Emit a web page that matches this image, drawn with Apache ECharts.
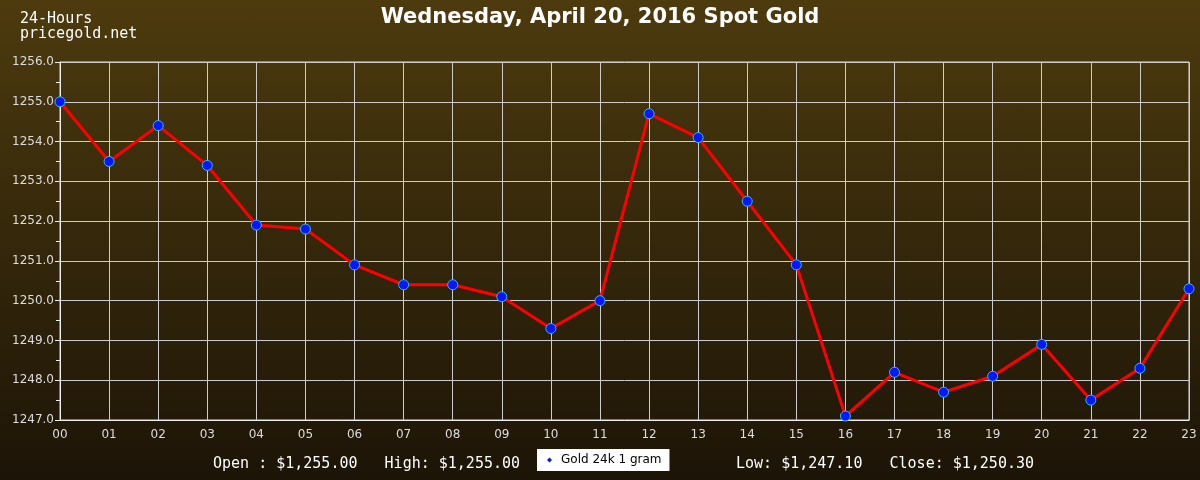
<!DOCTYPE html>
<html><head><meta charset="utf-8">
<script src="https://cdn.jsdelivr.net/npm/echarts@6/dist/echarts.min.js"></script>
<style>html,body{margin:0;padding:0;}#c{width:1200px;height:480px;background:linear-gradient(#4d3b0e,#1c1407);}</style>
</head><body><div id="c"></div>
<script>
const hours = ['00','01','02','03','04','05','06','07','08','09','10','11','12','13','14','15','16','17','18','19','20','21','22','23'];
const prices = [1255.0,1253.5,1254.4,1253.4,1251.9,1251.8,1250.9,1250.4,1250.4,1250.1,1249.3,1250.0,1254.7,1254.1,1252.5,1250.9,1247.1,1248.2,1247.7,1248.1,1248.9,1247.5,1248.3,1250.3];
const seriesName = 'Gold 24k 1 gram';
const titleText = 'Wednesday, April 20, 2016 Spot Gold';
const footerLeft = 'Open : $1,255.00   High: $1,255.00';
const footerRight = 'Low: $1,247.10   Close: $1,250.30';

const chart = echarts.init(document.getElementById('c'), null, {renderer:'canvas'});
const mono = '"DejaVu Sans Mono", monospace';
chart.setOption({
  animation:false,
  backgroundColor:'transparent',
  title:{text:titleText,left:'center',top:2,textStyle:{color:'#fff',fontSize:21,fontWeight:'bold',fontFamily:'"DejaVu Sans", sans-serif'}},
  graphic:[
    {type:'text',left:20,top:12,style:{text:'24-Hours\npricegold.net',fill:'#fff',font:'15px '+mono,lineHeight:15}},
    {type:'text',left:213,top:457,style:{text:footerLeft,fill:'#fff',font:'15px '+mono}},
    {type:'text',left:736,top:457,style:{text:footerRight,fill:'#fff',font:'15px '+mono}}
  ],
  legend:{left:537,top:449,backgroundColor:'#fff',padding:[5,8,5,10],itemWidth:5,itemHeight:5,itemGap:5,
    itemStyle:{color:'#0018ff',borderWidth:0},
    data:[{name:seriesName,icon:'diamond'}],textStyle:{color:'#000',fontSize:12,padding:[0,0,0,4],fontFamily:'"DejaVu Sans", sans-serif'}},
  grid:{left:60,right:11,top:62,bottom:60,show:true,borderColor:'#ddd',borderWidth:1,backgroundColor:'transparent'},
  xAxis:{type:'category',data:hours,boundaryGap:false,
    axisLine:{lineStyle:{color:'#eee',width:1}},axisTick:{show:false},
    axisLabel:{color:'#ddd',fontSize:12,margin:9,fontFamily:'"DejaVu Sans", sans-serif'},
    splitLine:{show:true,lineStyle:{color:'#ccc',width:1}}},
  yAxis:{type:'value',min:1247,max:1256,interval:1,
    axisLine:{show:true,lineStyle:{color:'#eee',width:1}},
    axisTick:{show:true,length:5,lineStyle:{color:'#eee'}},
    minorTick:{show:true,splitNumber:2,length:4,lineStyle:{color:'#eee'}},
    axisLabel:{color:'#ddd',fontSize:12,margin:6,formatter:v=>v.toFixed(1),fontFamily:'"DejaVu Sans", sans-serif'},
    splitLine:{show:true,lineStyle:{color:'#ccc',width:1}}},
  series:[{name:seriesName,type:'line',data:prices,symbol:'circle',symbolSize:10,
    lineStyle:{color:'#f00',width:3},
    itemStyle:{color:'#0018ff',borderColor:'#33bbee',borderWidth:1}}]
});
</script></body></html>
